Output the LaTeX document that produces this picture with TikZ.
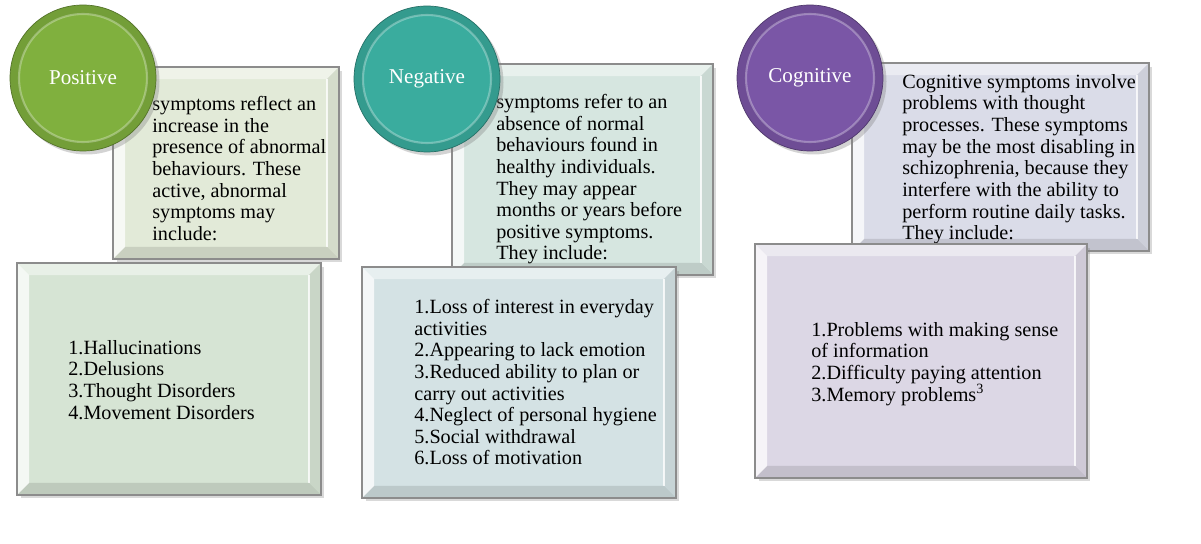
\documentclass[tikz,border=0pt]{standalone}
\usepackage{fontspec}
\setmainfont{Liberation Serif}
\newfontfamily\timesfont{Liberation Serif}
\usetikzlibrary{positioning}
\usetikzlibrary{calc}
\usetikzlibrary{shadows}

\definecolor{posgreen}{RGB}{128,176,62}
\definecolor{negteal}{RGB}{58,172,158}
\definecolor{cogpurple}{RGB}{122,86,166}
\definecolor{postop}{RGB}{226,234,216}
\definecolor{posbot}{RGB}{214,228,212}
\definecolor{negtop}{RGB}{214,230,224}
\definecolor{negbot}{RGB}{212,226,228}
\definecolor{cogtop}{RGB}{218,220,232}
\definecolor{cogbot}{RGB}{220,215,229}

\begin{document}
\begin{tikzpicture}[
    x=0.02cm, y=-0.02cm,
    symbox/.style={rectangle, draw=black!45, line width=0.8pt, fill=#1, inner sep=0pt,
        drop shadow={opacity=0.3, shadow xshift=2pt, shadow yshift=-2pt},
        path picture={
            \path (path picture bounding box.north west) coordinate (pa)
                  (path picture bounding box.north east) coordinate (pb)
                  (path picture bounding box.south east) coordinate (pc)
                  (path picture bounding box.south west) coordinate (pd);
            \fill[white, opacity=.45] (pa) -- (pb) -- ($(pb)+(-12,12)$) -- ($(pa)+(12,12)$) -- cycle;
            \fill[white, opacity=.75] (pa) -- ($(pa)+(12,12)$) -- ($(pd)+(12,-12)$) -- (pd) -- cycle;
            \fill[black, opacity=.06] (pb) -- (pc) -- ($(pc)+(-12,-12)$) -- ($(pb)+(-12,12)$) -- cycle;
            \draw[white, opacity=.8, line width=1pt] ($(pb)+(-12,12)$) -- ($(pc)+(-12,-12)$);
            \fill[black, opacity=.11] (pd) -- (pc) -- ($(pc)+(-12,-12)$) -- ($(pd)+(12,-12)$) -- cycle;
        }},
    phase/.style={circle, minimum size=2.92cm, inner sep=0pt, text=white,
        font=\timesfont\fontsize{12}{14}\selectfont, fill=#1!90!black, draw=#1!65!black,
        drop shadow={opacity=0.35, shadow xshift=2pt, shadow yshift=-2pt},
        path picture={
            \fill[#1] (path picture bounding box.center) circle (1.28cm);
            \draw[white, opacity=.3, line width=1.2pt] (path picture bounding box.center) circle (1.28cm);
        }},
    symtext/.style={anchor=north west, inner sep=0pt, align=left,
        font=\timesfont\fontsize{11.5}{12.3}\selectfont},
    ]
    \useasboundingbox (0,0) rectangle (1201,544);

    \node[symbox=postop, minimum width=4.52cm, minimum height=3.84cm] (PT) at (226,163) {};
    \node[symtext] (PTtext) at (152,96) {symptoms reflect an\\
                                          increase in the\\
                                          presence of abnormal\\
                                          behaviours. These\\
                                          active, abnormal\\
                                          symptoms may\\
                                          include:};
    \node[symbox=negtop, minimum width=5.22cm, minimum height=4.22cm] (NT) at (582.5,169.5) {};
    \node[symtext] (NTtext) at (496,94) {symptoms refer to an\\
                                          absence of normal\\
                                          behaviours found in\\
                                          healthy individuals.\\
                                          They may appear\\
                                          months or years before\\
                                          positive symptoms.\\
                                          They include:};
    \node[symbox=cogtop, minimum width=5.94cm, minimum height=3.76cm] (CT) at (1000.5,157) {};
    \node[symtext] (CTtext) at (902,74) {Cognitive symptoms involve\\
                                          problems with thought\\
                                          processes. These symptoms\\
                                          may be the most disabling in\\
                                          schizophrenia, because they\\
                                          interfere with the ability to\\
                                          perform routine daily tasks.\\
                                          They include:};

    \node[symbox=posbot, minimum width=6.08cm, minimum height=4.64cm] (PB) at (169,379) {};
    \node[symtext] (PBtext) at (68,340) {1.Hallucinations\\
                                          2.Delusions\\
                                          3.Thought Disorders\\
                                          4.Movement Disorders};
    \node[symbox=negbot, minimum width=6.28cm, minimum height=4.62cm] (NB) at (519,382.5) {};
    \node[symtext] (NBtext) at (414,299) {1.Loss of interest in everyday\\
                                           activities\\
                                           2.Appearing to lack emotion\\
                                           3.Reduced ability to plan or\\
                                           carry out activities\\
                                           4.Neglect of personal hygiene\\
                                           5.Social withdrawal\\
                                           6.Loss of motivation};
    \node[symbox=cogbot, minimum width=6.64cm, minimum height=4.68cm] (CB) at (921,361) {};
    \node[symtext] (CBtext) at (811,322) {1.Problems with making sense\\
                                           of information\\
                                           2.Difficulty paying attention\\
                                           3.Memory problems\textsuperscript{3}};

    \node[phase=posgreen] (P) at (83,78) {Positive};
    \node[phase=negteal] (N) at (427,79) {Negative};
    \node[phase=cogpurple] (C) at (810,78) {Cognitive};
\end{tikzpicture}
\end{document}
